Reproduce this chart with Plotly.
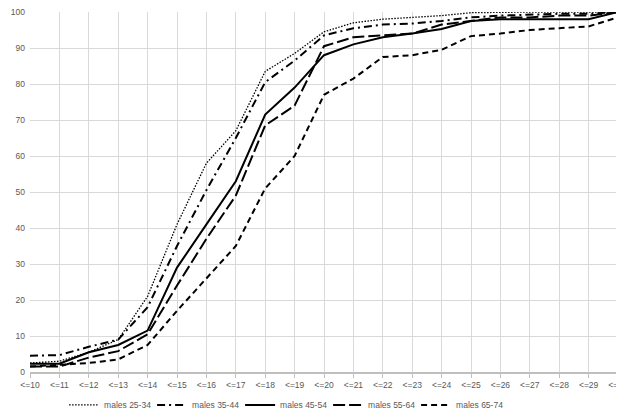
import plotly.graph_objects as go

categories = ["<=" + str(i) for i in range(10, 31)]

males_25_34 = [2.5, 3, 5.5, 9, 21, 41, 58, 67, 83.5, 88.5, 94.5, 97, 98, 98.5, 99, 99.8, 100, 100, 100, 100, 100]
males_35_44 = [4.5, 4.7, 7, 9, 18, 35, 50.5, 65, 80.5, 86.5, 93.5, 95.5, 96.5, 96.8, 97.5, 98.5, 99, 99.3, 99.5, 99.5, 100]
males_45_54 = [2.3, 2.3, 5.5, 7.5, 11.5, 29, 41, 53, 71.5, 79, 88, 91, 93, 94, 95.3, 97.5, 98, 98, 98, 98, 100]
males_55_64 = [1.5, 1.5, 4, 5.8, 10.5, 24, 37, 49, 68.5, 74, 90.5, 93, 93.5, 94, 96.5, 97.5, 98.5, 98.5, 99, 99, 100]
males_65_74 = [1.5, 2, 2.5, 3.5, 7.5, 17, 26, 35, 51, 60, 77, 81.5, 87.5, 88, 89.5, 93.3, 94, 95, 95.5, 96, 98.5]

series = [
    ("males 25-34", males_25_34, "1.5px,1.5px", 1.3),
    ("males 35-44", males_35_44, "8px,4px,2px,4px", 2),
    ("males 45-54", males_45_54, "solid", 2),
    ("males 55-64", males_55_64, "12px,4px", 2),
    ("males 65-74", males_65_74, "6px,4px", 2),
]

fig = go.Figure()
for name, vals, dash, w in series:
    fig.add_trace(go.Scatter(
        x=categories, y=vals, name=name, mode="lines",
        line=dict(color="black", width=w, dash=dash),
    ))

font_family = "Liberation Sans Narrow, Liberation Sans, Arial"
fig.update_layout(
    width=616, height=403,
    margin=dict(l=22, r=6, t=4, b=39, autoexpand=False),
    paper_bgcolor="white", plot_bgcolor="white",
    font=dict(family=font_family, size=9, color="#595959"),
    showlegend=True,
    legend=dict(orientation="h", x=0.058, xanchor="left",
                yref="container", y=0.015, yanchor="middle",
                font=dict(size=8.5, color="#595959"), itemwidth=30,
                entrywidth=43, entrywidthmode="pixels",
                tracegroupgap=0),
    xaxis=dict(
        type="category", range=[0, 20],
        showgrid=True, gridcolor="#d9d9d9", gridwidth=1,
        showline=True, linecolor="#bfbfbf", linewidth=1.5,
        ticks="outside", ticklen=4, tickcolor="#bfbfbf",
        tickangle=0, tickfont=dict(size=8.5),
        ticklabeloverflow="allow",
    ),
    yaxis=dict(
        range=[0, 100], dtick=10,
        showgrid=True, gridcolor="#d9d9d9", gridwidth=1,
        zeroline=False, showline=False, ticks="",
        tickfont=dict(size=8.5), ticklabelstandoff=4,
        ticklabeloverflow="allow",
    ),
)

fig.write_html("out.html")
